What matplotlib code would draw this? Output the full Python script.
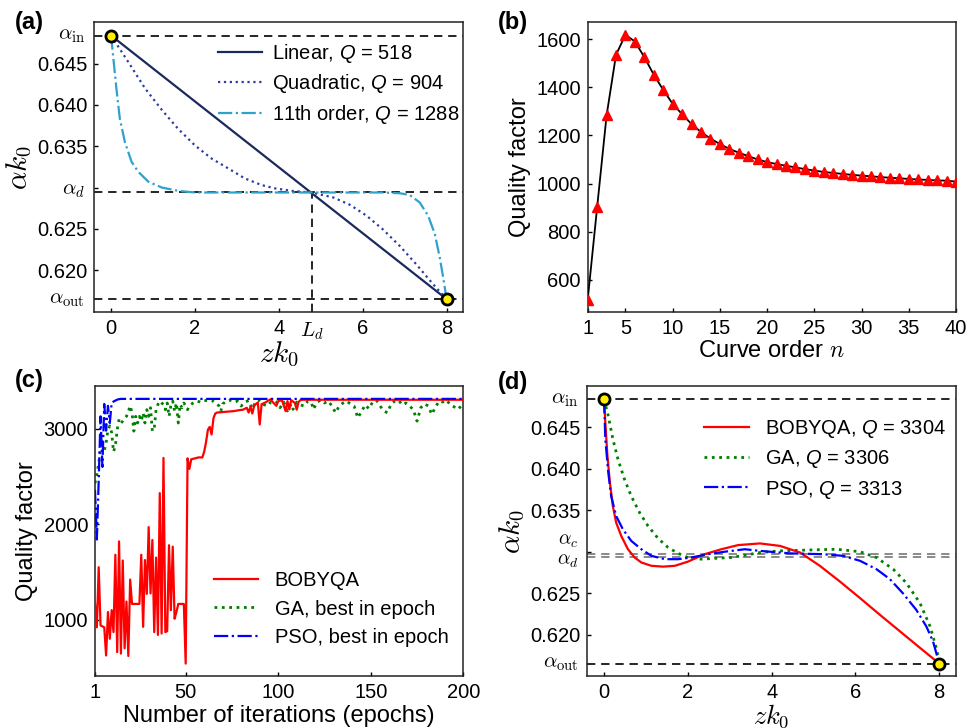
import matplotlib
matplotlib.use("Agg")
import matplotlib.pyplot as plt

plt.rcParams['font.family'] = ['Liberation Sans', 'DejaVu Sans']
plt.rcParams['mathtext.fontset'] = 'custom'
plt.rcParams['mathtext.it'] = 'Liberation Sans:italic'
plt.rcParams['mathtext.rm'] = 'Liberation Sans'
plt.rcParams['xtick.direction'] = 'in'
plt.rcParams['ytick.direction'] = 'in'

# ---------------- data ----------------
alpha_in = 0.6484
alpha_out = 0.6165
alpha_d = 0.6294
alpha_c = 0.6297
L_d = 4.78

# (a)
lin_z = [0, 8]
lin_a = [0.6484, 0.6165]
quad_z = [0, 0.41, 0.81, 1.21, 1.60, 2.0, 2.40, 2.80, 3.19, 3.59, 3.91, 4.30, 4.78,
          5.30, 5.70, 6.09, 6.49, 6.89, 7.28, 7.68, 8.0]
quad_a = [0.6484, 0.6452, 0.6420, 0.6394, 0.6371, 0.6351, 0.6335, 0.6323, 0.6311, 0.6303,
          0.6299, 0.6296, 0.6294, 0.6288, 0.6279, 0.6266, 0.6249, 0.6229, 0.6207, 0.6183, 0.6165]
o11_z = [0, 0.055, 0.135, 0.21, 0.33, 0.49, 0.65, 0.89, 1.21, 1.60, 2.0, 6.5, 6.9, 7.12,
         7.36, 7.56, 7.72, 7.84, 7.94, 8.0]
o11_a = [0.6484, 0.6456, 0.6416, 0.6383, 0.6355, 0.6331, 0.6319, 0.6307, 0.6300, 0.6296,
         0.6294, 0.6294, 0.6293, 0.6291, 0.6282, 0.6266, 0.6244, 0.6215, 0.6185, 0.6165]
a_xticks = [0, 2, 4, 6, 8]
a_yticks = [0.620, 0.625, 0.630, 0.635, 0.640, 0.645]
a_yticklabels = ['0.620', '0.625', '', '0.635', '0.640', '0.645']

# (b)
order_n = list(range(1, 41))
order_Q = [517, 902, 1283, 1535, 1618, 1590, 1525, 1452, 1389, 1331,
           1288, 1247, 1214, 1187, 1164, 1144, 1128, 1114, 1100, 1089,
           1081, 1074, 1067, 1060, 1054, 1048, 1044, 1040, 1036, 1033,
           1030, 1027, 1024, 1022, 1019, 1017, 1015, 1013, 1012, 1008]
b_xticks = [1, 5, 10, 15, 20, 25, 30, 35, 40]
b_yticks = [600, 800, 1000, 1200, 1400, 1600]

# (c)
bob_it = list(range(1, 51)) + [51, 52, 53, 55, 57, 59, 60, 61, 62, 63, 64, 65, 66, 67, 70, 73,
                               76, 79, 81, 83, 84, 85, 86, 87, 88, 89, 90, 91, 93, 95, 96, 97,
                               99, 100, 102, 104, 105, 106, 107, 109, 110, 111, 112, 113, 200]
bob_Q = [1170, 920, 1550, 940, 930, 920, 625, 1080, 800, 1100,
         870, 1680, 660, 1820, 645, 1620, 700, 1190, 620, 1420,
         1165, 1165, 1165, 1165, 1165, 1680, 925, 1625, 1270, 1970,
         1275, 1835, 870, 1650, 840, 2326, 855, 2694, 870, 880,
         1780, 1100, 1765, 1010, 1080, 1165, 1165, 1165, 1165, 540,
         2690, 2580, 2680, 2690, 2700, 2700, 2760, 2860, 2990, 3020, 2940, 3110, 3160, 3170,
         3175, 3180, 3185, 3195, 3200, 3220, 3170, 3230, 3160, 3240, 3260, 3275, 3045, 3257,
         3275, 3300, 3310, 3280, 3240, 3290, 3300, 3185, 3290, 3203, 3300, 3270, 3200, 3280,
         3300, 3304, 3304]
ga_it = list(range(1, 53)) + [54, 56, 58, 60, 62, 64, 66, 68, 69, 70, 72, 74, 76, 78, 80, 82, 84,
                              86, 88, 90, 92, 94, 96, 98, 100, 101, 103, 105, 107, 108, 110, 112,
                              114, 116, 118, 119, 121, 123, 125, 127, 129, 131, 133, 135, 137,
                              139, 141, 143, 145, 147, 149, 151, 153, 155, 157, 159, 161, 163,
                              165, 167, 169, 171, 173, 175, 177, 179, 181, 183, 185, 187, 189,
                              191, 193, 195, 197, 199, 200]
ga_Q = [2430, 2520, 2640, 2780, 2820, 2770, 2850, 2990, 3030, 2960,
        2760, 2820, 2990, 3100, 3060, 3080, 3110, 3130, 3180, 3240,
        3170, 2975, 3130, 3060, 3130, 3080, 3165, 3060, 3200, 3130,
        3220, 2975, 3000, 3200, 3255, 3290, 3270, 3255, 3200, 3270,
        3130, 3240, 3290, 3185, 3270, 3060, 3255, 3220, 3270, 3240,
        3200, 3240,
        3270, 3290, 3280, 3300, 3290, 3300, 3270, 3240, 3186, 3260, 3290, 3300, 3280, 3290,
        3238, 3280, 3295, 3210, 3290, 3300, 3256, 3238, 3280, 3290, 3270, 3221, 3280, 3186,
        3260, 3203, 3280, 3250, 3238, 3290, 3270, 3203, 3280, 3300, 3270, 3290, 3240, 3168,
        3240, 3270, 3290, 3260, 3238, 3115, 3180, 3250, 3210, 3280, 3300, 3240, 3186, 3168,
        3260, 3290, 3300, 3250, 3270, 3238, 3200, 3080, 3220, 3260, 3240, 3151, 3230, 3290,
        3280, 3300, 3250, 3230, 3203, 3240, 3250]
pso_it = [1, 2, 3, 4, 5, 6, 7, 8, 9, 10, 11, 12, 13, 14, 15, 200]
pso_Q = [2360, 1840, 2460, 3130, 2600, 3260, 2980, 3240, 3060, 3270, 3285, 3295, 3305, 3310,
         3313, 3313]
c_xticks = [1, 50, 100, 150, 200]
c_yticks = [1000, 2000, 3000]

# (d)
bob_z = [0, 0.03, 0.08, 0.14, 0.21, 0.29, 0.41, 0.57, 0.73, 0.89, 1.13, 1.41, 1.69, 2.0,
         2.4, 2.8, 3.2, 3.72, 4.2, 4.68, 5.15, 5.63, 6.11, 6.58, 7.06, 7.54, 8.0]
bob_a = [0.6484, 0.6456, 0.6416, 0.6383, 0.6355, 0.6335, 0.6319, 0.6303, 0.6293, 0.6287,
         0.6283, 0.6282, 0.6283, 0.6288, 0.6297, 0.6303, 0.6308, 0.6310, 0.6307, 0.6299,
         0.6283, 0.6264, 0.6244, 0.6224, 0.6204, 0.6184, 0.6165]
ga_z = [0, 0.10, 0.21, 0.33, 0.49, 0.65, 0.85, 1.05, 1.29, 1.53, 1.77, 2.0, 2.32, 2.64,
        3.03, 3.39, 3.72, 4.2, 4.84, 5.55, 6.11, 6.50, 6.90, 7.22, 7.54, 7.78, 7.94, 8.0]
ga_a = [0.6484, 0.6464, 0.6436, 0.6412, 0.6387, 0.6367, 0.6347, 0.6331, 0.6316, 0.6305,
        0.6298, 0.6293, 0.6291, 0.6292, 0.6293, 0.6296, 0.6299, 0.6301, 0.6302, 0.6303,
        0.6300, 0.6293, 0.6279, 0.6262, 0.6238, 0.6210, 0.6182, 0.6165]
pso_z = [0, 0.03, 0.10, 0.17, 0.29, 0.45, 0.65, 0.89, 1.13, 1.45, 1.77, 2.08, 2.48, 2.88,
         3.36, 3.72, 4.44, 5.23, 5.71, 6.11, 6.50, 6.82, 7.13, 7.45, 7.69, 7.85, 7.95, 8.0]
pso_a = [0.6484, 0.6436, 0.6396, 0.6367, 0.6343, 0.6327, 0.6313, 0.6303, 0.6295, 0.6291,
         0.6291, 0.6293, 0.6297, 0.6300, 0.6303, 0.6301, 0.6298, 0.6297, 0.6295, 0.6289,
         0.6279, 0.6267, 0.6250, 0.6230, 0.6210, 0.6192, 0.6174, 0.6165]

# ---------------- styling helpers ----------------
TICK_FS = 14.5
LAB_FS = 17
CM_FS = 21
LEG_FS = 14.5
DASH = (0, (5, 3.5))


def style(ax):
    ax.tick_params(labelsize=TICK_FS, length=3, width=1, pad=5, top=False, right=False)
    for s in ax.spines.values():
        s.set_linewidth(1.1)
        s.set_color('#222222')


def endpoints(ax):
    ax.plot([0, 8], [alpha_in, alpha_out], ls='none', marker='o', ms=8,
            mfc='#ffee00', mec='black', mew=2, zorder=6, clip_on=False)


def alpha_label(ax, y, txt, fs=15):
    ax.text(-0.025, y, txt, transform=ax.get_yaxis_transform(), ha='right', va='center',
            fontsize=fs, math_fontfamily='cm')


fig = plt.figure(figsize=(9.67, 7.28), dpi=100)
W, H = 967.0, 728.0
ax_a = fig.add_axes([94.3 / W, 1 - 312.3 / H, 369 / W, 290 / H])
ax_b = fig.add_axes([587.7 / W, 1 - 312.3 / H, 368.3 / W, 290 / H])
ax_c = fig.add_axes([95 / W, 1 - 676 / H, 368.3 / W, 290 / H])
ax_d = fig.add_axes([587.3 / W, 1 - 676 / H, 368.7 / W, 290 / H])

# ---------------- (a) ----------------
ax = ax_a
style(ax)
for yv in (alpha_in, alpha_d, alpha_out):
    ax.axhline(yv, color='black', lw=1.2, ls=DASH, zorder=1)
ax.plot([L_d, L_d], [0.6149, alpha_d], color='black', lw=1.2, ls=DASH, zorder=1)
ax.plot(lin_z, lin_a, color='#1b2a5c', lw=1.6, label='Linear, $Q$ = 518')
ax.plot(quad_z, quad_a, color='#2b3d9e', lw=1.6, ls=':', label='Quadratic, $Q$ = 904')
ax.plot(o11_z, o11_a, color='#2fa2cc', lw=1.6, ls='-.', label='11th order, $Q$ = 1288')
endpoints(ax)
ax.set_xlim(-0.4, 8.4)
ax.set_ylim(0.6149, 0.6500)
ax.set_xticks(a_xticks)
ax.set_yticks(a_yticks)
ax.set_yticklabels(a_yticklabels)
alpha_label(ax, alpha_in, r'$\alpha_{\rm in}$')
alpha_label(ax, alpha_d + 0.0002, r'$\alpha_{d}$')
alpha_label(ax, alpha_out, r'$\alpha_{\rm out}$')
ax.text(L_d, -0.028, r'$L_d$', transform=ax.get_xaxis_transform(), ha='center', va='top',
        fontsize=15, math_fontfamily='cm')
ax.set_xlabel(r'$zk_0$', fontsize=CM_FS, math_fontfamily='cm', labelpad=1)
ax.set_ylabel(r'$\alpha k_0$', fontsize=CM_FS, math_fontfamily='cm', labelpad=2)
ax.legend(loc='center left', bbox_to_anchor=(0.308, 0.788), frameon=False, fontsize=LEG_FS,
          borderpad=0, handlelength=2.2, handletextpad=0.5, labelspacing=0.37)

# ---------------- (b) ----------------
ax = ax_b
style(ax)
ax.plot(order_n, order_Q, color='black', lw=1.3, marker='^', ms=7, mfc='red', mec='red',
        zorder=3)
ax.set_xlim(1, 40)
ax.set_ylim(465, 1670)
ax.set_xticks(b_xticks)
ax.set_yticks(b_yticks)
ax.set_xlabel('Curve order $n$', fontsize=LAB_FS, math_fontfamily='cm', labelpad=1)
ax.set_ylabel('Quality factor', fontsize=LAB_FS, labelpad=4)

# ---------------- (c) ----------------
ax = ax_c
style(ax)
ax.plot(bob_it, bob_Q, color='red', lw=1.6, label='BOBYQA', zorder=3)
ax.plot(ga_it, ga_Q, color='green', lw=2.0, ls=':', label='GA, best in epoch', zorder=2)
ax.plot(pso_it, pso_Q, color='blue', lw=1.6, ls='-.', label='PSO, best in epoch', zorder=4)
ax.set_xlim(1, 200)
ax.set_ylim(410, 3448)
ax.set_xticks(c_xticks)
ax.set_yticks(c_yticks)
ax.set_xlabel('Number of iterations (epochs)', fontsize=LAB_FS, labelpad=2)
ax.set_ylabel('Quality factor', fontsize=LAB_FS, labelpad=4)
ax.legend(loc='center left', bbox_to_anchor=(0.296, 0.231), frameon=False, fontsize=LEG_FS,
          borderpad=0, handlelength=2.2, handletextpad=0.8, labelspacing=0.45)

# ---------------- (d) ----------------
ax = ax_d
style(ax)
ax.axhline(alpha_in, color='black', lw=1.2, ls=DASH, zorder=1)
ax.axhline(alpha_out, color='black', lw=1.2, ls=DASH, zorder=1)
ax.axhline(alpha_c, color='#777777', lw=1.2, ls=DASH, zorder=1)
ax.axhline(alpha_d, color='#777777', lw=1.2, ls=DASH, zorder=1)
ax.plot(bob_z, bob_a, color='red', lw=1.6, label='BOBYQA, $Q$ = 3304', zorder=3)
ax.plot(ga_z, ga_a, color='green', lw=2.0, ls=':', label='GA, $Q$ = 3306', zorder=2)
ax.plot(pso_z, pso_a, color='blue', lw=1.6, ls='-.', label='PSO, $Q$ = 3313', zorder=4)
endpoints(ax)
ax.set_xlim(-0.4, 8.4)
ax.set_ylim(0.6150, 0.6500)
ax.set_xticks(a_xticks)
ax.set_yticks(a_yticks)
ax.set_yticklabels(a_yticklabels)
alpha_label(ax, alpha_in, r'$\alpha_{\rm in}$')
alpha_label(ax, alpha_c + 0.0016, r'$\alpha_{c}$', fs=14)
alpha_label(ax, alpha_d - 0.0006, r'$\alpha_{d}$', fs=14)
alpha_label(ax, alpha_out, r'$\alpha_{\rm out}$')
ax.set_xlabel(r'$zk_0$', fontsize=19, math_fontfamily='cm', labelpad=0)
ax.set_ylabel(r'$\alpha k_0$', fontsize=CM_FS, math_fontfamily='cm', labelpad=2)
ax.legend(loc='center left', bbox_to_anchor=(0.29, 0.748), frameon=False, fontsize=LEG_FS,
          borderpad=0, handlelength=2.2, handletextpad=0.8, labelspacing=0.42)

# panel letters
for txt, x, y in [('(a)', 15, 22), ('(b)', 498, 22), ('(c)', 15, 380), ('(d)', 498, 382)]:
    fig.text(x / W, 1 - y / H, txt, fontsize=17, fontweight='bold', ha='left', va='center')

fig.savefig('out.png', dpi=100)
